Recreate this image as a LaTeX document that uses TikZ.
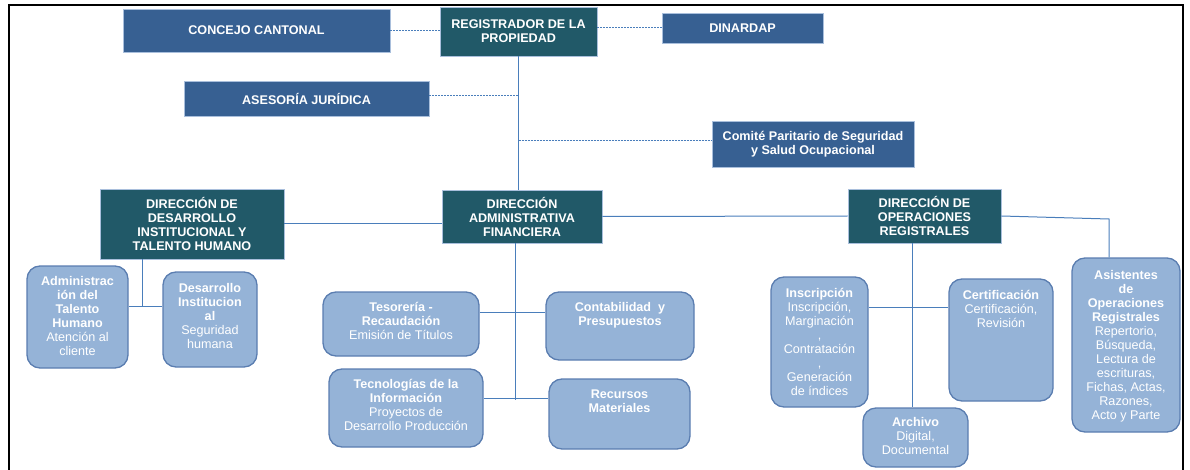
\documentclass[tikz,border=0pt]{standalone}
\usepackage{fontspec}
\setmainfont{Liberation Sans}
\definecolor{topblue}{HTML}{376092}
\definecolor{darkteal}{HTML}{215968}
\definecolor{lightfill}{HTML}{95B3D7}
\definecolor{lightedge}{HTML}{5A7DB0}
\definecolor{lineblue}{HTML}{4A7EBB}
\definecolor{thinedge}{HTML}{A9BFDC}
\begin{document}
\begin{tikzpicture}[x=1pt,y=-1pt,
  topbox/.style={fill=topblue,draw=thinedge,line width=0.6pt,text=white,
    font=\fontsize{12.6}{14}\selectfont\bfseries,align=center,inner sep=0pt},
  darkbox/.style={fill=darkteal,draw=thinedge,line width=0.6pt,text=white,
    font=\fontsize{12.6}{14}\selectfont\bfseries,align=center,inner sep=0pt},
  lightbox/.style={fill=lightfill,draw=lightedge,line width=1.3pt,rounded corners=13pt,inner sep=0pt},
  ltext/.style={text=white,font=\fontsize{12.6}{14}\selectfont,align=center,anchor=north,inner sep=0pt},
  conn/.style={draw=lineblue,line width=1pt},
  dashconn/.style={draw=lineblue,line width=1pt,dash pattern=on 2pt off 1pt}]
\useasboundingbox (0,0) rectangle (1190,470);

% frame
\draw[line width=2.5pt,black] (9,470) -- (9,5) -- (1183,5) -- (1183,470);

% top level
\node[topbox,minimum width=267pt,minimum height=43pt] (concejo) at (256.5,30.5) {CONCEJO CANTONAL};
\node[darkbox,minimum width=157pt,minimum height=49pt] (reg) at (518.5,31.5) {REGISTRADOR DE LA\\PROPIEDAD};
\node[topbox,minimum width=161pt,minimum height=30pt] (dinardap) at (742.5,28) {DINARDAP};
\node[topbox,minimum width=245pt,minimum height=35pt] (asesoria) at (306.5,98.5) {ASESORÍA JURÍDICA};
\node[topbox,minimum width=202pt,minimum height=46pt] (comite) at (813,144) {Comité Paritario de Seguridad\\y Salud Ocupacional};

% directions
\node[darkbox,minimum width=184pt,minimum height=70pt] (ddi) at (192,224) {DIRECCIÓN DE\\DESARROLLO\\INSTITUCIONAL Y\\TALENTO HUMANO};
\node[darkbox,minimum width=160pt,minimum height=53pt] (daf) at (522,216.5) {DIRECCIÓN\\ADMINISTRATIVA\\FINANCIERA};
\node[darkbox,minimum width=153pt,minimum height=54pt] (dor) at (924.5,216) {DIRECCIÓN DE\\OPERACIONES\\REGISTRALES};

% light boxes
\node[lightbox,minimum width=101pt,minimum height=102pt] (adm) at (77.5,317) {};
\node[lightbox,minimum width=94pt,minimum height=95pt] (dsi) at (210,319.5) {};
\node[lightbox,minimum width=156pt,minimum height=64pt] (tes) at (401,324) {};
\node[lightbox,minimum width=148pt,minimum height=68pt] (cont) at (620,326) {};
\node[lightbox,minimum width=154pt,minimum height=78pt] (tec) at (406,408) {};
\node[lightbox,minimum width=141pt,minimum height=70pt] (rec) at (619.5,414) {};
\node[lightbox,minimum width=97pt,minimum height=130pt] (insc) at (819.5,342) {};
\node[lightbox,minimum width=104pt,minimum height=122pt] (cert) at (1001,340) {};
\node[lightbox,minimum width=105pt,minimum height=59pt] (arch) at (915.5,437.5) {};
\node[lightbox,minimum width=108pt,minimum height=174pt] (asist) at (1126,345) {};

% texts of light boxes
\node[ltext] (admT) at (77.5,276.5) {\textbf{Administrac}\\\textbf{ión del}\\\textbf{Talento}\\\textbf{Humano}\\Atención al\\cliente};
\node[ltext] (dsiT) at (210,283.5) {\textbf{Desarrollo}\\\textbf{Institucion}\\\textbf{al}\\Seguridad\\humana};
\node[ltext] (tesT) at (401,302.5) {\textbf{Tesorería -}\\\textbf{Recaudación}\\Emisión de Títulos};
\node[ltext] (contT) at (620,302.5) {\textbf{Contabilidad~ y}\\\textbf{Presupuestos}};
\node[ltext] (tecT) at (406,379.5) {\textbf{Tecnologías de la}\\\textbf{Información}\\Proyectos de\\Desarrollo Producción};
\node[ltext] (recT) at (619.5,389.5) {\textbf{Recursos}\\\textbf{Materiales}};
\node[ltext] (inscT) at (819.5,288.5) {\textbf{Inscripción}\\Inscripción,\\Marginación\\,\\Contratación\\,\\Generación\\de índices};
\node[ltext] (certT) at (1001,290.5) {\textbf{Certificación}\\Certificación,\\Revisión};
\node[ltext] (archT) at (915.5,417.5) {\textbf{Archivo}\\Digital,\\Documental};
\node[ltext] (asistT) at (1126,270.5) {\textbf{Asistentes}\\\textbf{de}\\\textbf{Operaciones}\\\textbf{Registrales}\\Repertorio,\\Búsqueda,\\Lectura de\\escrituras,\\Fichas, Actas,\\Razones,\\Acto y Parte};

% dashed staff links
\draw[dashconn] (concejo.east) -- (concejo.east -| reg.west);
\draw[dashconn] (reg.east |- dinardap.west) -- (dinardap.west);
\draw[dashconn] ([yshift=2.5pt]asesoria.east) -- ([yshift=2.5pt]asesoria.east -| reg.south);
\coordinate (cj) at (518.5,141);
\draw[dashconn] (cj) -- (cj -| comite.west);

% trunk
\draw[conn] (reg.south) -- (reg.south |- daf.north);
\draw[conn] (ddi.east) -- (ddi.east -| daf.west);
\draw[conn] (daf.east) -- (dor.west);
\coordinate (cA) at (1109,219);
\draw[conn] (dor.east) -- (cA) -- (cA |- asist.north);

% DDI branch
\coordinate (dj) at (142,306);
\draw[conn] (ddi.south -| dj) -- (dj);
\draw[conn] (adm.east |- dj) -- (dsi.west |- dj);

% DAF branch
\coordinate (aj) at (515,400);
\coordinate (tj) at (515,312);
\coordinate (rj) at (515,398);
\draw[conn] (daf.south -| aj) -- (aj);
\draw[conn] (tes.east |- tj) -- (cont.west |- tj);
\draw[conn] (tec.east |- rj) -- (rec.west |- rj);

% DOR branch
\coordinate (oj) at (912,307);
\draw[conn] (dor.south -| oj) -- (arch.north -| oj);
\draw[conn] (insc.east |- oj) -- (cert.west |- oj);
\end{tikzpicture}
\end{document}
